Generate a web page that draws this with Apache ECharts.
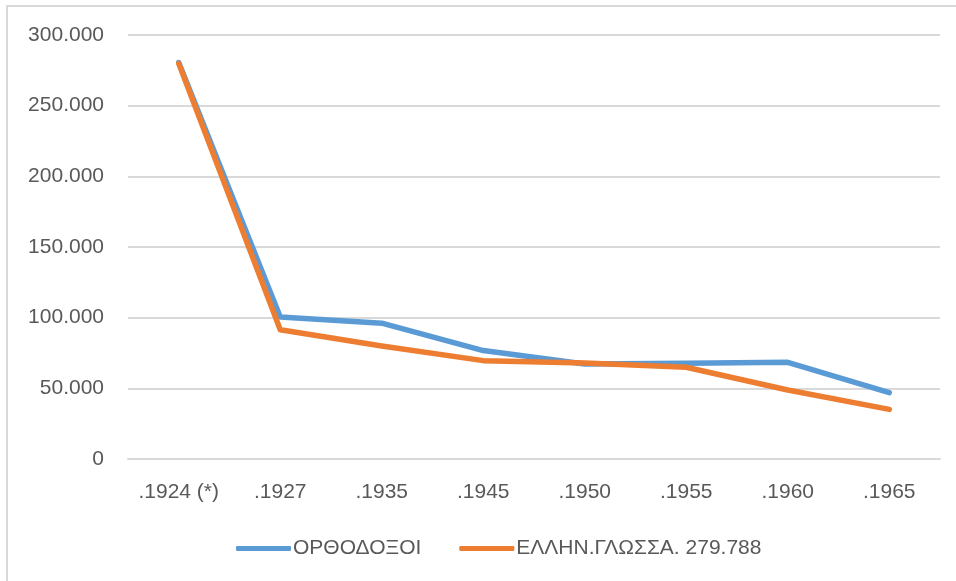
<!DOCTYPE html>
<html>
<head>
	<meta charset="utf-8">
	<title>chart</title>
	<style>
		html, body { margin: 0; padding: 0; background: #fff; }
		#main { width: 956px; height: 581px; }
	</style>
</head>
<body>
	<div id="main"></div>
<script type="text/javascript" src="https://cdn.jsdelivr.net/npm/echarts@6/dist/echarts.min.js"></script>
<script type="text/javascript">
	var years = ['.1924 (*)', '.1927', '.1935', '.1945', '.1950', '.1955', '.1960', '.1965'];
	var orthodoxoi = [280500, 100400, 96100, 76700, 67200, 67700, 68400, 46900];
	var ellinGlossa = [279788, 91400, 80000, 69600, 68000, 64900, 48800, 35100];
	var yTicks = ['0', '50.000', '100.000', '150.000', '200.000', '250.000', '300.000'];

	var textColor = '#595959';
	var font = 'Liberation Sans, Arial, sans-serif';

	var option = {
		backgroundColor: '#fff',
		animation: false,
		graphic: [{
			type: 'polyline',
			shape: { points: [[7, 581], [7, 6], [956, 6]] },
			style: { stroke: '#d9d9d9', lineWidth: 2, fill: null }
		}],
		grid: {
			left: 128,
			right: 16,
			top: 35,
			bottom: 122
		},
		legend: {
			left: 231,
			top: 533,
			itemWidth: 55,
			itemHeight: 5,
			itemGap: 38,
			icon: 'roundRect',
			textStyle: { color: textColor, fontSize: 21, fontFamily: font, padding: [0, 0, 0, -3] },
			data: ['ΟΡΘΟΔΟΞΟΙ', 'ΕΛΛΗΝ.ΓΛΩΣΣΑ. 279.788']
		},
		xAxis: {
			type: 'category',
			boundaryGap: true,
			data: years,
			axisLine: { show: true, lineStyle: { color: '#d9d9d9', width: 2 } },
			axisTick: { show: false },
			axisLabel: { interval: 0, hideOverlap: false, color: textColor, fontSize: 21, fontFamily: font, margin: 23 }
		},
		yAxis: {
			type: 'value',
			min: 0,
			max: 300000,
			interval: 50000,
			axisLine: { show: false },
			axisTick: { show: false },
			splitLine: { lineStyle: { color: '#d9d9d9', width: 2 } },
			axisLabel: {
				color: textColor,
				fontSize: 21,
				fontFamily: font,
				margin: 24,
				formatter: function (v) { return yTicks[Math.round(v / 50000)]; }
			}
		},
		series: [{
			name: 'ΟΡΘΟΔΟΞΟΙ',
			type: 'line',
			data: orthodoxoi,
			symbol: 'none',
			lineStyle: { color: '#5b9bd5', width: 5.5, cap: 'round', join: 'round' },
			itemStyle: { color: '#5b9bd5' }
		}, {
			name: 'ΕΛΛΗΝ.ΓΛΩΣΣΑ. 279.788',
			type: 'line',
			data: ellinGlossa,
			symbol: 'none',
			lineStyle: { color: '#ed7d31', width: 5.5, cap: 'round', join: 'round' },
			itemStyle: { color: '#ed7d31' }
		}]
	};

	var myChart = echarts.init(document.getElementById('main'));
	myChart.setOption(option);
</script>
</body>
</html>
